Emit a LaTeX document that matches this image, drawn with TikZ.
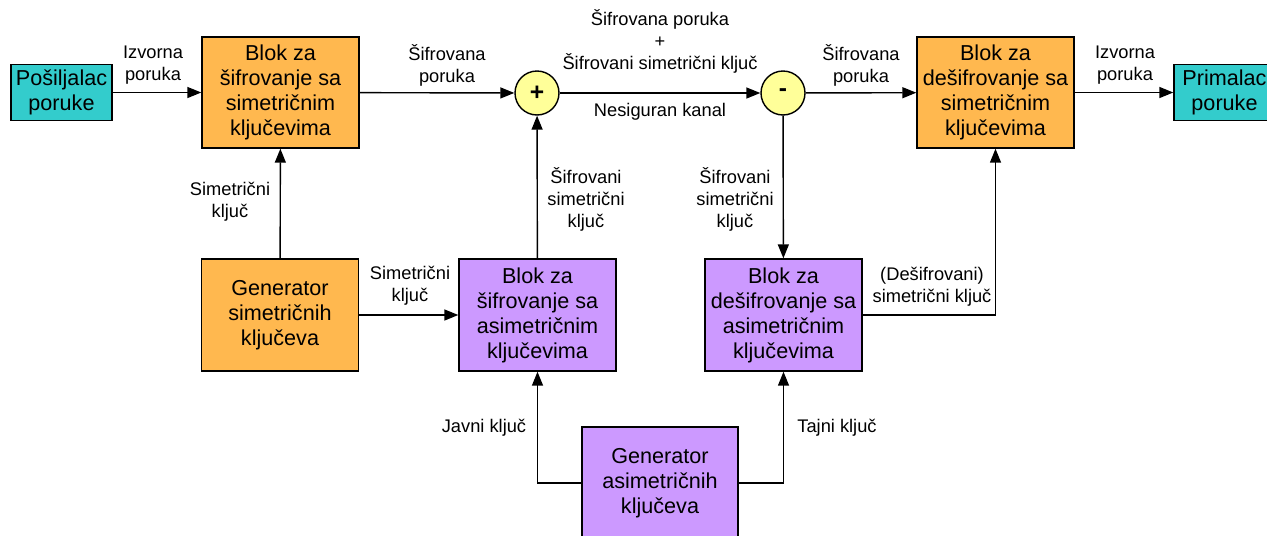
\documentclass[tikz,border=0pt]{standalone}
\usepackage{fontspec}
\setmainfont{Liberation Sans}
\usetikzlibrary{arrows.meta}
\definecolor{teal}{HTML}{33CCCC}
\definecolor{orng}{HTML}{FFB84F}
\definecolor{lilac}{HTML}{CC99FF}
\definecolor{lyellow}{HTML}{FFFF99}
\tikzset{
  blk/.style={draw=black, line width=0.8pt, align=center, inner sep=0pt,
    font=\fontsize{12.3}{14.2}\selectfont},
  bigbox/.style={blk, minimum width=3.14cm, minimum height=2.22cm},
  endbox/.style={blk, fill=teal, minimum width=2.02cm, minimum height=1.12cm},
  sum/.style={draw=black, line width=0.8pt, circle, fill=lyellow, minimum size=0.88cm,
    inner sep=0pt, font=\bfseries\fontsize{14}{14}\selectfont},
  lbl/.style={align=center, inner sep=0pt, font=\fontsize{10.4}{12.5}\selectfont},
  flow/.style={line width=0.8pt, -{Triangle[length=0.28cm,width=0.22cm]}}
}
\begin{document}
\begin{tikzpicture}[x=0.02cm, y=-0.02cm]
\useasboundingbox (0,0) rectangle (1267,535);

% top row: message path
\node[endbox] (snd) at (61.5,92.5) {Pošiljalac\\poruke};
\node[bigbox, fill=orng] (encS) at (280.5,92.5) {Blok za\\šifrovanje sa\\simetričnim\\ključevima};
\node[sum] (plus) at (537,93) {+};
\node[sum] (minus) at (783,93) {-};
\node[bigbox, fill=orng] (decS) at (995.5,92.5) {Blok za\\dešifrovanje sa\\simetričnim\\ključevima};
\node[endbox] (rcv) at (1224.5,92.5) {Primalac\\poruke};

% middle row: key handling
\node[bigbox, fill=orng, minimum height=2.24cm] (genS) at (280,315) {Generator\\simetričnih\\ključeva};
\node[bigbox, fill=lilac, minimum height=2.24cm] (encA) at (537.5,315) {Blok za\\šifrovanje sa\\asimetričnim\\ključevima};
\node[bigbox, fill=lilac, minimum height=2.24cm] (decA) at (783.5,315) {Blok za\\dešifrovanje sa\\asimetričnim\\ključevima};

% bottom: asymmetric key generator
\node[bigbox, fill=lilac, minimum width=3.12cm, minimum height=2.24cm] (genA) at (660,483) {Generator\\asimetričnih\\ključeva};

% connectors
\draw[flow] (snd) -- (encS);
\draw[flow] (encS) -- (plus);
\draw[flow] (plus) -- (minus);
\draw[flow] (minus) -- (decS);
\draw[flow] (decS) -- (rcv);
\draw[flow] (genS) -- (encS);
\draw[flow] (genS) -- (encA);
\draw[flow] (encA) -- (plus);
\draw[flow] (minus) -- (decA);
\draw[flow] (decA.east) -| (decS.south);
\draw[flow] (genA.west) -| (encA.south);
\draw[flow] (genA.east) -| (decA.south);

% labels
\node[lbl] (l1) at (153,65) {Izvorna\\poruka};
\node[lbl] (l2) at (447,65) {Šifrovana\\poruka};
\node[lbl] (l3) at (660,41) {Šifrovana poruka\\+\\Šifrovani simetrični ključ};
\node[lbl] (l4) at (660,112) {Nesiguran kanal};
\node[lbl] (l5) at (861,65) {Šifrovana\\poruka};
\node[lbl] (l6) at (1125,65) {Izvorna\\poruka};
\node[lbl] (l7) at (230,202) {Simetrični\\ključ};
\node[lbl] (l8) at (586,199) {Šifrovani\\simetrični\\ključ};
\node[lbl] (l9) at (735,199) {Šifrovani\\simetrični\\ključ};
\node[lbl] (l10) at (410,286) {Simetrični\\ključ};
\node[lbl] (l11) at (932,287) {(Dešifrovani)\\simetrični ključ};
\node[lbl] (l12) at (484,428) {Javni ključ};
\node[lbl] (l13) at (837,428) {Tajni ključ};
\end{tikzpicture}
\end{document}
